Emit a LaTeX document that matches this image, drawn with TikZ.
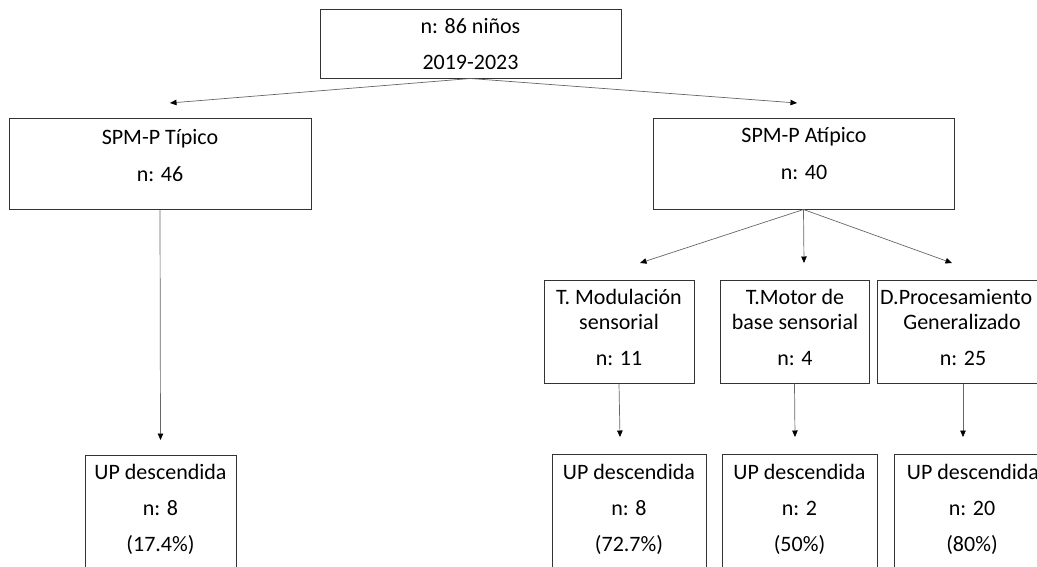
\documentclass[tikz,border=0pt]{standalone}
\usepackage{fontspec}
\setmainfont{Carlito}
\usetikzlibrary{arrows.meta}
\begin{document}
\begin{tikzpicture}[x=1pt,y=-1pt,
  box/.style={draw=black!80, line width=1pt, rectangle, inner sep=0pt},
  txt/.style={font=\fontsize{22}{26}\selectfont, inner sep=0pt, text height=0.7em, text depth=0.2em, anchor=center, yshift=-5pt},
  conn/.style={draw=black!60, line width=0.7pt, -{Triangle[length=6.5pt,width=5.5pt,color=black]}}]
\useasboundingbox (0,0) rectangle (1037,566);
\clip (0,0) rectangle (1037,566);
% boxes
\node[box, minimum width=301, minimum height=69] (top) at (470.5,43.5) {};
\node[box, minimum width=302, minimum height=91] (tip) at (160,163.5) {};
\node[box, minimum width=301, minimum height=91] (atip) at (803.5,163.5) {};
\node[box, minimum width=150, minimum height=103] (mod) at (619,331.5) {};
\node[box, minimum width=149, minimum height=103] (mot) at (794.5,331.5) {};
\node[box, minimum width=200, minimum height=103] (dpg) at (977,331.5) {};
\node[box, minimum width=151, minimum height=145] (up0) at (160.5,527.5) {};
\node[box, minimum width=154, minimum height=146] (up1) at (629,527) {};
\node[box, minimum width=155, minimum height=146] (up2) at (799.5,527) {};
\node[box, minimum width=170, minimum height=146] (up3) at (979,527) {};
% texts
\node[txt] (t1) at (470.5,26) {n: 86 niños};
\node[txt] (t2) at (470.5,62) {2019-2023};
\node[txt] (p1) at (160,137) {SPM-P Típico};
\node[txt] (p2) at (160,174) {n: 46};
\node[txt] (q1) at (804,135) {SPM-P Atípico};
\node[txt] (q2) at (804,172) {n: 40};
\node[txt] (m1) at (619,297) {T. Modulación};
\node[txt] (m2) at (619,322) {sensorial};
\node[txt] (m3) at (619,358) {n: 11};
\node[txt] (o1) at (795,297) {T.Motor de};
\node[txt] (o2) at (795,322) {base sensorial};
\node[txt] (o3) at (795,358) {n: 4};
\node[txt, anchor=west] (d1) at (880,297) {D.Procesamiento};
\node[txt] (d2) at (962,322) {Generalizado};
\node[txt] (d3) at (963,358) {n: 25};
\node[txt] (u01) at (160.5,472) {UP descendida};
\node[txt] (u02) at (160.5,508) {n: 8};
\node[txt] (u03) at (160.5,544) {(17.4\%)};
\node[txt] (u11) at (629,472) {UP descendida};
\node[txt] (u12) at (629,508) {n: 8};
\node[txt] (u13) at (629,544) {(72.7\%)};
\node[txt] (u21) at (799.5,472) {UP descendida};
\node[txt] (u22) at (799.5,508) {n: 2};
\node[txt] (u23) at (799.5,544) {(50\%)};
\node[txt] (u31) at (973,472) {UP descendida};
\node[txt] (u32) at (972,508) {n: 20};
\node[txt] (u33) at (972,544) {(80\%)};
% free ends
\coordinate (e1) at (170,103);
\coordinate (e2) at (797,103);
\coordinate (e3) at (160.5,440);
\coordinate (e4) at (640,263);
\coordinate (e5) at (804,263);
\coordinate (e6) at (952,263);
\coordinate (e7) at (620,437);
\coordinate (e8) at (795,437);
\coordinate (e9) at (963,437);
% connectors
\draw[conn] (top.south) -- (e1);
\draw[conn] (top.south) -- (e2);
\draw[conn] (tip.south) -- (e3);
\draw[conn] (atip.south) -- (e4);
\draw[conn] (atip.south) -- (e5);
\draw[conn] (atip.south) -- (e6);
\draw[conn] (mod.south) -- (e7);
\draw[conn] (mot.south) -- (e8);
\draw[conn] (dpg.south -| e9) -- (e9);
\end{tikzpicture}
\end{document}
